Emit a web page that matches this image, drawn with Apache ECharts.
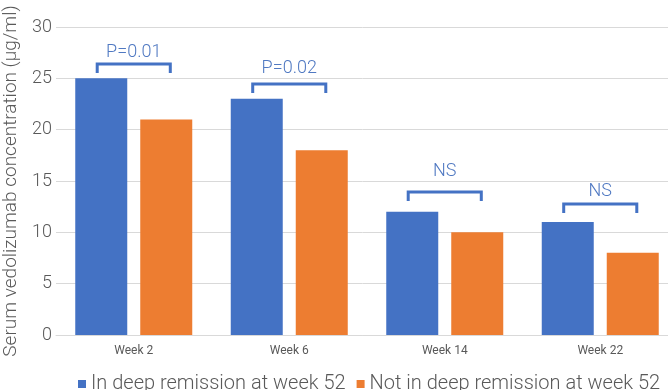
<!DOCTYPE html>
<html>
<head>
<meta charset="utf-8">
<script src="https://cdn.jsdelivr.net/npm/echarts@6/dist/echarts.min.js"></script>
<style>
html,body{margin:0;padding:0;background:#fff;}
#chart{width:668px;height:390px;}
</style>
</head>
<body>
<div id="chart"></div>
<script>
var categories = ['Week 2', 'Week 6', 'Week 14', 'Week 22'];
var seriesNames = ['In deep remission at week 52', 'Not in deep remission at week 52'];
var deepRemission = [25, 23, 12, 11];
var notDeepRemission = [21, 18, 10, 8];
var bracketLevels = [26.4, 24.45, 13.93, 12.76];
var pLabels = ['P=0.01', 'P=0.02', 'NS', 'NS'];
var pLabelLevels = [27.56, 26.0, 15.88, 13.93];
var yTicks = [0, 5, 10, 15, 20, 25, 30];

var chart = echarts.init(document.getElementById('chart'), null, {renderer: 'canvas'});
var FONT = 'Roboto, "Noto Sans", sans-serif';

var bracketData = categories.map(function (c, i) { return [i, bracketLevels[i]]; });
var labelData = categories.map(function (c, i) { return [i, pLabelLevels[i]]; });

var option = {
  backgroundColor: '#ffffff',
  animation: false,
  textStyle: {fontFamily: FONT},
  grid: {left: 56, top: 27, bottom: 55, width: 622, containLabel: false, outerBoundsMode: 'none'},
  legend: {
    data: seriesNames,
    left: 73,
    top: 369,
    icon: 'rect',
    itemWidth: 8,
    itemHeight: 8,
    itemGap: 11,
    textStyle: {fontSize: 20, color: '#595959', fontFamily: FONT, fontWeight: 300}
  },
  xAxis: {
    type: 'category',
    data: categories,
    axisLine: {show: true, lineStyle: {color: '#d9d9d9', width: 1}},
    axisTick: {show: false},
    axisLabel: {color: '#595959', fontSize: 12, margin: 10, fontFamily: FONT}
  },
  yAxis: {
    type: 'value',
    min: yTicks[0],
    max: yTicks[yTicks.length - 1],
    interval: yTicks[1] - yTicks[0],
    name: 'Serum vedolizumab concentration (µg/ml)',
    nameLocation: 'middle',
    nameRotate: 90,
    nameGap: 35,
    nameTextStyle: {fontSize: 19, color: '#595959', fontFamily: FONT, fontWeight: 300},
    axisLine: {show: false},
    axisTick: {show: false},
    axisLabel: {color: '#595959', fontSize: 18, margin: 4, fontFamily: FONT, fontWeight: 300},
    splitLine: {show: true, lineStyle: {color: '#d9d9d9', width: 1}}
  },
  series: [
    {
      name: seriesNames[0],
      type: 'bar',
      data: deepRemission,
      barWidth: 52,
      barGap: '25%',
      itemStyle: {color: '#4472C4'}
    },
    {
      name: seriesNames[1],
      type: 'bar',
      data: notDeepRemission,
      barWidth: 52,
      barGap: '25%',
      itemStyle: {color: '#ED7D31'}
    },
    {
      type: 'custom',
      data: bracketData,
      silent: true,
      z: 5,
      renderItem: function (params, api) {
        var c = api.coord([api.value(0), api.value(1)]);
        var band = api.size([1, 0])[0];
        var half = band * 0.235;
        var dep = 9;
        return {
          type: 'polyline',
          shape: {points: [[c[0] - half, c[1] + dep], [c[0] - half, c[1]], [c[0] + half, c[1]], [c[0] + half, c[1] + dep]]},
          style: {stroke: '#4472C4', lineWidth: 3, fill: null, lineJoin: 'miter'}
        };
      }
    },
    {
      type: 'custom',
      data: labelData,
      silent: true,
      z: 6,
      renderItem: function (params, api) {
        var c = api.coord([api.value(0), api.value(1)]);
        return {
          type: 'text',
          x: c[0],
          y: c[1],
          style: {
            text: pLabels[params.dataIndex],
            fill: '#5079c2',
            font: '300 18px ' + FONT,
            align: 'center',
            verticalAlign: 'middle',
            textAlign: 'center',
            textVerticalAlign: 'middle'
          }
        };
      }
    }
  ]
};
chart.setOption(option);
</script>
</body>
</html>
